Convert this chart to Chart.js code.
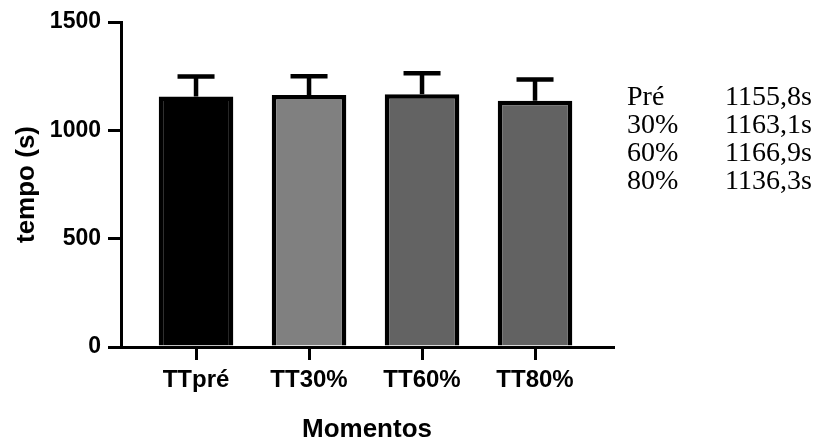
<!DOCTYPE html>
<html>
<head>
<meta charset="utf-8">
<script src="https://cdn.jsdelivr.net/npm/chart.js@4/dist/chart.umd.min.js"></script>
<style>
  html, body { margin: 0; padding: 0; background: #ffffff; }
  canvas { display: block; }
</style>
</head>
<body>
<canvas id="chart" width="819" height="442"></canvas>
<script>
// Exercise moments and mean time (s) with standard deviation
const categories = ['TTpré', 'TT30%', 'TT60%', 'TT80%'];
const summaryLabels = ['Pré', '30%', '60%', '80%'];
const means = [1155.8, 1163.1, 1166.9, 1136.3];
const sds = [93, 86, 96, 98];
const yTicks = [0, 500, 1000, 1500];
const barColors = ['#000000', '#808080', '#636363', '#626262'];

const SANS = '"Liberation Sans", Arial, sans-serif';
const SERIF = '"Liberation Serif", "Times New Roman", serif';

// Upward-only error bars with caps, drawn from each bar's mean
const errorBars = {
  id: 'errorBars',
  afterDatasetsDraw(chart) {
    const { ctx, scales: { x, y } } = chart;
    ctx.save();
    ctx.strokeStyle = '#000000';
    ctx.lineWidth = 4.5;
    ctx.lineCap = 'butt';
    means.forEach((m, i) => {
      const px = x.getPixelForValue(i + 1);
      const y0 = y.getPixelForValue(m);
      const y1 = y.getPixelForValue(m + sds[i]);
      ctx.beginPath();
      ctx.moveTo(px, y0);
      ctx.lineTo(px, y1);
      ctx.moveTo(px - 18.5, y1);
      ctx.lineTo(px + 18.5, y1);
      ctx.stroke();
    });
    ctx.restore();
  }
};

// Summary list of the means beside the plot
const summaryText = {
  id: 'summaryText',
  afterDraw(chart) {
    const { ctx, chartArea } = chart;
    ctx.save();
    ctx.fillStyle = '#000000';
    ctx.font = '28px ' + SERIF;
    ctx.textAlign = 'left';
    ctx.textBaseline = 'alphabetic';
    summaryLabels.forEach((lab, i) => {
      const yy = chartArea.top + 83 + i * 28;
      ctx.fillText(lab, chartArea.right + 14, yy);
      ctx.fillText(means[i].toFixed(1).replace('.', ',') + 's', chartArea.right + 112, yy);
    });
    ctx.restore();
  }
};

new Chart(document.getElementById('chart'), {
  type: 'bar',
  data: {
    datasets: [{
      data: categories.map((c, i) => ({ x: i + 1, y: means[i] })),
      backgroundColor: barColors,
      borderColor: '#000000',
      borderWidth: 4.5,
      borderSkipped: 'start',
      barPercentage: 0.66,
      categoryPercentage: 1
    }]
  },
  options: {
    responsive: false,
    animation: false,
    layout: { padding: { left: 0, top: 22, right: 206, bottom: 0 } },
    plugins: {
      legend: { display: false },
      tooltip: { enabled: false }
    },
    scales: {
      x: {
        type: 'linear',
        offset: false,
        min: 0.336,
        max: 4.69,
        afterFit(scale) { scale.height = 95; },
        afterBuildTicks(scale) { scale.ticks = categories.map((c, i) => ({ value: i + 1 })); },
        grid: { offset: false, drawOnChartArea: false, drawTicks: true, tickLength: 13, color: '#000000', lineWidth: 3 },
        border: { display: true, color: '#000000', width: 3, z: 1 },
        ticks: {
          autoSkip: false,
          maxRotation: 0,
          padding: 6,
          color: '#000000',
          font: { family: SANS, size: 24, weight: 'bold' },
          callback: (v) => categories[Math.round(v) - 1]
        },
        title: {
          display: true,
          text: 'Momentos',
          color: '#000000',
          font: { family: SANS, size: 26, weight: 'bold' },
          padding: { top: 0, bottom: -3 }
        }
      },
      y: {
        min: 0,
        max: 1500,
        afterFit(scale) { scale.width = 121; },
        afterBuildTicks(scale) { scale.ticks = yTicks.map(v => ({ value: v })); },
        grid: { drawOnChartArea: false, drawTicks: true, tickLength: 13, color: '#000000', lineWidth: 3 },
        border: { display: true, color: '#000000', width: 3, z: 1 },
        ticks: {
          padding: 7,
          color: '#000000',
          font: { family: SANS, size: 23, weight: 'bold' },
          callback: (v) => String(v)
        },
        title: {
          display: true,
          text: 'tempo (s)',
          color: '#000000',
          font: { family: SANS, size: 26, weight: 'bold' },
          padding: { top: 11, bottom: 0 }
        }
      }
    }
  },
  plugins: [errorBars, summaryText]
});
</script>
</body>
</html>
